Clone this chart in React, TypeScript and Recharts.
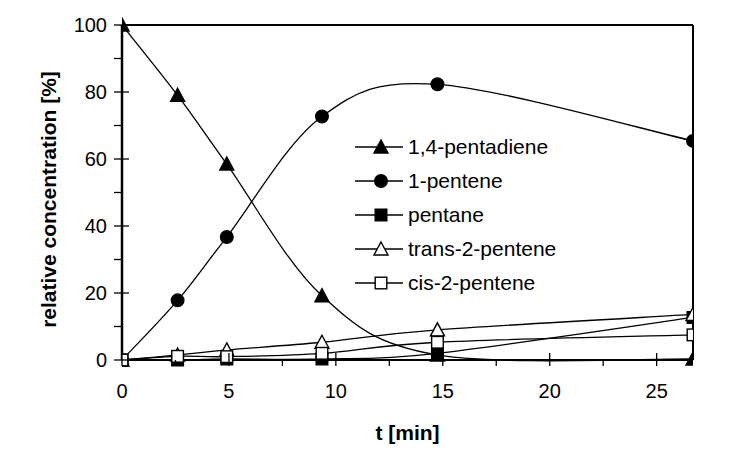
import React from 'react';
import { LineChart, Line, XAxis, YAxis, ReferenceLine, Legend, Label } from 'recharts';

const times = [0, 2.6, 4.9, 9.35, 14.75, 26.7];
const pentadiene = [100, 79, 58.5, 19.2, 1.5, 0.3];
const pentene = [0, 17.8, 36.7, 72.7, 82.3, 65.4];
const pentane = [0, 0, 0.3, 0.3, 2, 12.7];
const trans2 = [0, 1.5, 3, 5.3, 9, 13.6];
const cis2 = [0, 1.1, 1, 2, 5.3, 7.5];

const xTicks = [0, 2.5, 5, 7.5, 10, 12.5, 15, 17.5, 20, 22.5, 25];
const yTicks = [0, 10, 20, 30, 40, 50, 60, 70, 80, 90, 100];
const xMax = 26.7;

const seriesDefs = [
  { key: 'pentadiene', name: '1,4-pentadiene', shape: 'triangle', filled: true },
  { key: 'pentene', name: '1-pentene', shape: 'circle', filled: true },
  { key: 'pentane', name: 'pentane', shape: 'square', filled: true },
  { key: 'trans2', name: 'trans-2-pentene', shape: 'triangle', filled: false },
  { key: 'cis2', name: 'cis-2-pentene', shape: 'square', filled: false },
];

const data = times.map((t, i) => ({
  t,
  pentadiene: pentadiene[i],
  pentene: pentene[i],
  pentane: pentane[i],
  trans2: trans2[i],
  cis2: cis2[i],
}));

const FONT = '"Liberation Sans", Arial, sans-serif';

// Excel-like smoothed line (Catmull-Rom through points)
function excelCurve(context: any) {
  let pts: number[][] = [];
  return {
    areaStart() {},
    areaEnd() {},
    lineStart() {
      pts = [];
    },
    point(x: number, y: number) {
      pts.push([+x, +y]);
    },
    lineEnd() {
      if (!pts.length) return;
      context.moveTo(pts[0][0], pts[0][1]);
      for (let i = 0; i < pts.length - 1; i++) {
        const p0 = pts[Math.max(0, i - 1)];
        const p1 = pts[i];
        const p2 = pts[i + 1];
        const p3 = pts[Math.min(pts.length - 1, i + 2)];
        const c1x = p1[0] + (p2[0] - p0[0]) / 6;
        const c1y = p1[1] + (p2[1] - p0[1]) / 6;
        const c2x = p2[0] - (p3[0] - p1[0]) / 6;
        const c2y = p2[1] - (p3[1] - p1[1]) / 6;
        context.bezierCurveTo(c1x, c1y, c2x, c2y, p2[0], p2[1]);
      }
    },
  };
}

function MarkerShape({ cx, cy, shape, filled }: any) {
  const fill = filled ? '#000' : '#fff';
  const sw = 1.4;
  if (shape === 'triangle') {
    const pts = `${cx},${cy - 7} ${cx + 7},${cy + 6} ${cx - 7},${cy + 6}`;
    return <polygon points={pts} fill={fill} stroke="#000" strokeWidth={sw} />;
  }
  if (shape === 'circle') {
    return <circle cx={cx} cy={cy} r={6.3} fill={fill} stroke="#000" strokeWidth={sw} />;
  }
  return <rect x={cx - 5.8} y={cy - 5.8} width={11.6} height={11.6} fill={fill} stroke="#000" strokeWidth={sw} />;
}

const XTick = (props: any) => {
  const { x, y, payload } = props;
  const v = payload.value;
  const major = Math.abs(v / 5 - Math.round(v / 5)) < 1e-6;
  return (
    <g>
      <line x1={x} x2={x} y1={major ? y - 7 : y} y2={y + 6} stroke="#000" strokeWidth={1.3} />
      {major && (
        <text x={x} y={y + 38} textAnchor="middle" fontSize={20} fontFamily={FONT} fill="#000">
          {v}
        </text>
      )}
    </g>
  );
};

const YTick = (props: any) => {
  const { x, y, payload } = props;
  const v = payload.value;
  const major = v % 20 === 0;
  return (
    <g>
      <line x1={x - 8} x2={major ? x + 7 : x} y1={y} y2={y} stroke="#000" strokeWidth={1.3} />
      {major && (
        <text x={x - 15} y={y + 7} textAnchor="end" fontSize={20} fontFamily={FONT} fill="#000">
          {v}
        </text>
      )}
    </g>
  );
};

const renderLegend = () => (
  <div style={{ fontFamily: FONT, fontSize: 21, color: '#000' }}>
    {seriesDefs.map((s) => (
      <div key={s.key} style={{ height: 34, display: 'flex', alignItems: 'center', whiteSpace: 'nowrap' }}>
        <svg width={48} height={20} style={{ display: 'block' }}>
          <line x1={0} x2={48} y1={10} y2={10} stroke="#000" strokeWidth={1.3} />
          <MarkerShape cx={26} cy={10} shape={s.shape} filled={s.filled} />
        </svg>
        <span style={{ marginLeft: 5 }}>{s.name}</span>
      </div>
    ))}
  </div>
);

export default function App() {
  return (
    <div style={{ position: 'absolute', left: 0, top: 0, width: 745, height: 459, background: '#fff' }}>
      <LineChart
        width={745}
        height={459}
        data={data}
        margin={{ top: 25, right: 52, bottom: 0, left: 0 }}
        style={{ fontFamily: FONT }}
      >
        <XAxis
          dataKey="t"
          type="number"
          domain={[0, xMax]}
          ticks={xTicks}
          allowDataOverflow
          height={99}
          tickSize={0}
          tickMargin={0}
          tickLine={false}
          tick={<XTick />}
          axisLine={{ stroke: '#000', strokeWidth: 2 }}
          interval={0}
        >
          <Label
            value="t [min]"
            position="insideBottom"
            offset={19}
            style={{ fontFamily: FONT, fontSize: 21, fontWeight: 'bold', fill: '#000' }}
          />
        </XAxis>
        <YAxis
          type="number"
          domain={[0, 100]}
          ticks={yTicks}
          width={122}
          tickSize={0}
          tickMargin={0}
          tickLine={false}
          tick={<YTick />}
          axisLine={{ stroke: '#000', strokeWidth: 2.5 }}
          interval={0}
        >
          <Label
            value="relative concentration [%]"
            angle={-90}
            position="insideLeft"
            offset={49}
            dy={7}
            style={{ fontFamily: FONT, fontSize: 21, fontWeight: 'bold', fill: '#000', textAnchor: 'middle' }}
          />
        </YAxis>
        <ReferenceLine y={100} stroke="#000" strokeWidth={2} />
        <ReferenceLine x={xMax} stroke="#000" strokeWidth={2} />
        <Legend
          layout="vertical"
          align="center"
          verticalAlign="middle"
          content={renderLegend}
          wrapperStyle={{ left: 355, top: 130, width: 240 }}
        />
        {seriesDefs.map((s) => (
          <Line
            key={s.key}
            dataKey={s.key}
            name={s.name}
            type={excelCurve as any}
            stroke="#000"
            strokeWidth={1.3}
            isAnimationActive={false}
            dot={(p: any) => (
              <MarkerShape key={`${s.key}-${p.index}`} cx={p.cx} cy={p.cy} shape={s.shape} filled={s.filled} />
            )}
            activeDot={false}
          />
        ))}
      </LineChart>
    </div>
  );
}
